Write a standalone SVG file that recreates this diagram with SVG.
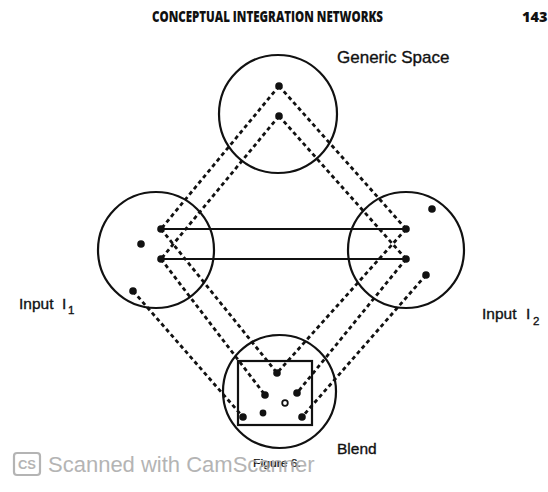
<svg xmlns="http://www.w3.org/2000/svg" width="548" height="492" viewBox="0 0 548 492">
<style>
.sp{fill:none;stroke:#111;stroke-width:2.2}
.dash{fill:none;stroke:#111;stroke-width:2.8;stroke-dasharray:4 3.2}
.solid{fill:none;stroke:#111;stroke-width:2.2}
.dot{fill:#111}
.lbl{font-family:"Liberation Sans",Arial,sans-serif;fill:#111;stroke:#111;stroke-width:0.35}
.hdr{font-family:"Open Sans","Liberation Sans",sans-serif;font-weight:800;fill:#111}
.wm{font-family:"Liberation Sans",Arial,sans-serif;fill:#a8a8a8}
</style>
<rect width="548" height="492" fill="#fff"/>
<text class="hdr" x="152" y="22" font-size="15" textLength="231" lengthAdjust="spacingAndGlyphs">CONCEPTUAL INTEGRATION NETWORKS</text>
<text class="hdr" x="522" y="22" font-size="14.5">143</text>
<g id="connectors">
<line class="solid" x1="161" y1="229" x2="406" y2="229"/>
<line class="solid" x1="161" y1="259" x2="406" y2="259"/>
<line class="dash" x1="279" y1="86" x2="161" y2="229"/>
<line class="dash" x1="279" y1="116" x2="161" y2="259"/>
<line class="dash" x1="279" y1="86" x2="406" y2="229"/>
<line class="dash" x1="279" y1="116" x2="406" y2="259"/>
<line class="dash" x1="161" y1="229" x2="277" y2="373"/>
<line class="dash" x1="161" y1="259" x2="265" y2="395"/>
<line class="dash" x1="133" y1="291" x2="243" y2="417"/>
<line class="dash" x1="406" y1="229" x2="277" y2="373"/>
<line class="dash" x1="406" y1="259" x2="297" y2="393"/>
<line class="dash" x1="426" y1="275" x2="302" y2="417"/>
</g>
<g id="generic">
<circle class="sp" cx="278" cy="114" r="59"/>
<circle class="dot" cx="279" cy="86" r="3.8"/>
<circle class="dot" cx="279" cy="116" r="3.8"/>
<text class="lbl" x="337" y="63" font-size="17">Generic Space</text>
</g>
<g id="input1">
<circle class="sp" cx="156" cy="250" r="58"/>
<circle class="dot" cx="161" cy="229" r="3.8"/>
<circle class="dot" cx="141" cy="244" r="3.8"/>
<circle class="dot" cx="161" cy="259" r="3.8"/>
<circle class="dot" cx="133" cy="291" r="3.8"/>
<text class="lbl" x="19" y="309" font-size="15.5">Input</text>
<text class="lbl" x="62" y="309" font-size="15.5">I</text>
<text class="lbl" x="68" y="314" font-size="11.5">1</text>
</g>
<g id="input2">
<circle class="sp" cx="406" cy="250" r="58"/>
<circle class="dot" cx="432" cy="209" r="3.8"/>
<circle class="dot" cx="406" cy="229" r="3.8"/>
<circle class="dot" cx="406" cy="259" r="3.8"/>
<circle class="dot" cx="426" cy="275" r="3.8"/>
<text class="lbl" x="482" y="319" font-size="15.5">Input</text>
<text class="lbl" x="526" y="319" font-size="15.5">I</text>
<text class="lbl" x="533" y="325" font-size="11.5">2</text>
</g>
<g id="blend">
<circle class="sp" cx="279.5" cy="391.5" r="56.5"/>
<rect class="sp" x="238" y="361" width="74" height="64"/>
<circle class="dot" cx="277" cy="373" r="3.8"/>
<circle class="dot" cx="265" cy="395" r="3.8"/>
<circle class="dot" cx="297" cy="393" r="3.8"/>
<circle cx="285" cy="403" r="2.8" fill="#fff" stroke="#111" stroke-width="1.8"/>
<circle class="dot" cx="263" cy="413" r="3.4"/>
<circle class="dot" cx="243" cy="417" r="3.8"/>
<circle class="dot" cx="302" cy="417" r="3.8"/>
<text class="lbl" x="337" y="454" font-size="15.5">Blend</text>
</g>
<text class="lbl" x="253" y="467" font-size="10" textLength="48" lengthAdjust="spacingAndGlyphs" style="stroke-width:0.2">Figure 6.</text>
<g id="watermark" opacity="0.85">
<rect x="14" y="453" width="26" height="22" rx="3" fill="none" stroke="#a8a8a8" stroke-width="2.2"/>
<text class="wm" x="27" y="469" font-size="13" text-anchor="middle" font-weight="bold">CS</text>
<text class="wm" x="48" y="472" font-size="22">Scanned with CamScanner</text>
</g>
</svg>
